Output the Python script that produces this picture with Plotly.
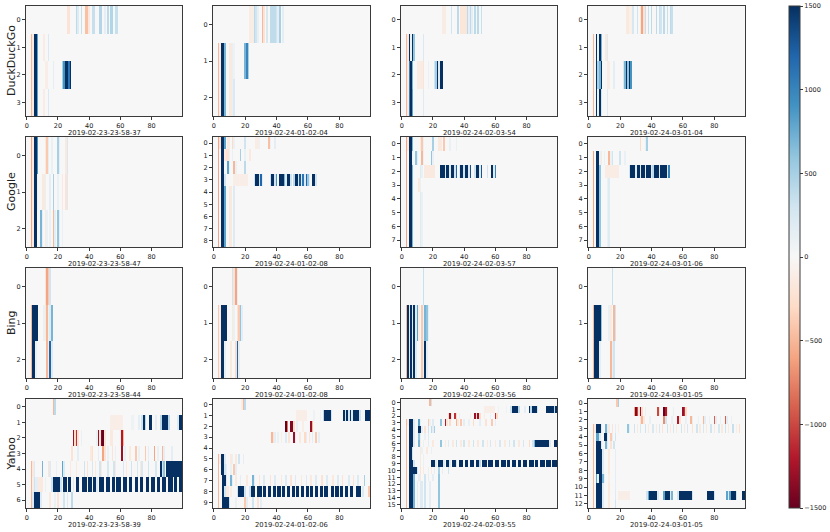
import numpy as np
import plotly.graph_objects as go

N_COLS = 100
ENGINES = ["DuckDuckGo", "Google", "Bing", "Yahoo"]
PANEL_LABELS = [
    ["2019-02-23-23-58-37", "2019-02-24-01-02-04", "2019-02-24-02-03-54", "2019-02-24-03-01-04"],
    ["2019-02-23-23-58-47", "2019-02-24-01-02-08", "2019-02-24-02-03-57", "2019-02-24-03-01-06"],
    ["2019-02-23-23-58-44", "2019-02-24-01-02-08", "2019-02-24-02-03-56", "2019-02-24-03-01-05"],
    ["2019-02-23-23-58-39", "2019-02-24-01-02-06", "2019-02-24-02-03-55", "2019-02-24-03-01-05"],
]
CBAR_TICKS = [-1500, -1000, -500, 0, 500, 1000, 1500]
CBAR_TEXT = ["\u22121500", "\u22121000", "\u2212500", "0", "500", "1000", "1500"]
X_TICKS = [0, 20, 40, 60, 80]

# each row: list of [first_col, last_col, value]
DDG_1 = [
    [[26, 27, -200], [32, 32, 400], [33, 33, 200], [35, 35, 350], [38, 39, -450], [40, 40, -150],
     [42, 43, 350], [47, 48, 450], [50, 50, 150], [52, 52, 400], [54, 55, 450], [57, 58, 350]],
    [[3, 3, -500], [4, 4, -150], [5, 6, 1500], [7, 7, 800], [11, 11, -120], [14, 14, 220]],
    [[3, 3, -500], [4, 4, -150], [5, 6, 1500], [7, 7, 800], [12, 13, -100], [17, 17, 150],
     [23, 23, 500], [24, 24, 900], [25, 26, 1500], [27, 27, 1100], [28, 28, 1500]],
    [[3, 3, -500], [4, 4, -150], [5, 6, 1500], [7, 7, 800], [11, 11, -120], [14, 14, 220]],
]
DDG_2 = [
    [[23, 25, -120], [26, 26, 400], [27, 27, 300], [28, 28, 120], [31, 31, -500], [32, 32, -200],
     [34, 34, 250], [36, 39, 380], [40, 40, 300], [41, 41, 150], [42, 42, 500], [44, 44, 150]],
    [[3, 3, -500], [4, 4, -100], [5, 6, 1500], [7, 7, 700], [10, 11, -150], [12, 12, 120],
     [13, 13, 80], [20, 20, 700], [21, 21, 1000], [22, 22, 500]],
    [[3, 3, -500], [4, 4, -100], [5, 6, 1500], [7, 7, 700], [10, 11, -150], [12, 12, 120],
     [13, 13, 220]],
]
DDG_3 = [
    [[26, 28, -120], [32, 32, 300], [36, 36, 400], [38, 41, -180], [42, 42, 400], [43, 43, 150],
     [44, 44, 400], [45, 45, 150], [47, 47, 400], [49, 49, 400], [51, 51, 350]],
    [[3, 3, -500], [4, 4, -150], [5, 5, 1500], [6, 6, 100], [7, 7, 1500], [8, 8, 600],
     [14, 14, 220]],
    [[3, 3, -500], [4, 4, -150], [5, 5, 1000], [6, 6, 1500], [7, 7, 700], [10, 13, -120],
     [14, 14, -200], [17, 17, 100], [21, 21, 300], [22, 22, 500], [23, 23, 1500], [24, 24, 200],
     [25, 26, 1500]],
    [[3, 3, -500], [4, 4, -150], [5, 5, 1000], [6, 6, 1500], [7, 7, 800], [14, 14, 200]],
]
DDG_4 = [
    [[24, 25, -150], [26, 27, -80], [28, 28, 250], [31, 31, 300], [33, 33, -150], [34, 34, -600],
     [35, 35, -200], [36, 36, 350], [38, 38, 350], [40, 40, 400], [43, 43, 400], [45, 45, 350],
     [46, 46, 300], [48, 48, 400], [50, 50, 350], [52, 52, 400], [53, 53, 350]],
    [[3, 3, -500], [5, 5, 1500], [6, 6, 80], [7, 7, 1500], [8, 8, 700], [11, 11, -150],
     [12, 12, 200]],
    [[3, 3, -500], [5, 5, 1500], [6, 6, 500], [7, 7, 700], [8, 8, 1500], [12, 13, -120],
     [16, 16, 150], [22, 22, 250], [23, 23, 700], [24, 24, 1500], [25, 25, 600], [26, 26, 1500],
     [27, 27, 900]],
    [[3, 3, -500], [5, 5, 1500], [6, 6, 80], [7, 7, 1500], [8, 8, 300], [12, 12, 200]],
]

GOOGLE_1 = [
    [[3, 3, -600], [4, 4, -150], [5, 6, 1500], [7, 7, 900], [12, 12, -150], [13, 13, -400],
     [14, 14, 150], [16, 16, 100], [20, 20, 500], [21, 21, 150], [25, 25, -150], [26, 26, 250]],
    [[3, 3, -600], [4, 4, -150], [5, 6, 1500], [7, 7, 100], [10, 11, -150], [12, 12, 100],
     [15, 15, 150], [17, 17, 500], [20, 20, 100], [23, 23, -150], [25, 25, -200], [26, 26, 200]],
    [[3, 3, -600], [4, 4, -150], [5, 6, 1500], [9, 9, 700], [10, 10, 150], [12, 12, -150],
     [13, 13, 100], [15, 15, 100], [17, 17, -500], [18, 18, 150], [20, 20, 600], [21, 21, 150],
     [23, 23, 100]],
]
GOOGLE_2 = [
    [[3, 3, -600], [4, 4, -200], [5, 6, 1500], [7, 7, 800], [9, 10, -150], [12, 12, -300],
     [13, 13, 100], [20, 20, 300], [27, 28, -120], [29, 29, 100], [35, 35, -450], [36, 36, 100],
     [39, 39, 150]],
    [[3, 3, -600], [5, 6, 1500], [7, 7, -150], [8, 9, -200], [10, 10, 100], [12, 12, 100],
     [17, 17, 500], [20, 20, 100], [23, 23, -150]],
    [[3, 3, -600], [5, 6, 1500], [9, 9, 800], [10, 10, 100], [13, 13, -500], [14, 14, 100],
     [20, 20, 400]],
    [[3, 3, -600], [5, 6, 1500], [7, 7, 300], [13, 21, -100], [26, 26, 300], [27, 28, 1500],
     [29, 29, 300], [30, 30, 1200], [31, 31, 200], [36, 36, 300], [37, 38, 1500], [39, 39, 300],
     [40, 40, 900], [42, 44, 1500], [45, 45, 700], [46, 46, 200], [47, 48, 1500], [49, 49, 300],
     [51, 51, 400], [52, 53, 1500], [54, 54, 300], [55, 55, 1300], [56, 56, 200], [57, 57, 1100],
     [58, 58, 200], [59, 59, 1200], [60, 60, 600], [61, 61, 200], [63, 64, 1500], [65, 65, 300]],
    [[3, 3, -600], [5, 6, 1500], [7, 7, 800], [10, 11, -150], [13, 13, 200]],
    [[3, 3, -600], [5, 6, 1500], [7, 7, 800], [10, 11, -150], [13, 13, 200]],
    [[3, 3, -600], [5, 6, 1500], [7, 7, 800], [10, 11, -150], [13, 13, 200]],
    [[3, 3, -600], [5, 6, 1500], [7, 7, 800], [10, 11, -150], [13, 13, 200]],
    [[3, 3, -600], [5, 6, 1500], [7, 7, 800], [10, 11, -150], [13, 13, 200]],
]
GOOGLE_3 = [
    [[3, 3, -600], [4, 4, -150], [5, 6, 1500], [7, 7, 700], [12, 12, -150], [13, 13, -400],
     [14, 14, 100], [20, 20, 500], [24, 25, -150], [27, 27, -400], [31, 31, 100], [35, 35, 100]],
    [[3, 3, -600], [5, 6, 1500], [7, 7, 100], [9, 9, 600], [10, 10, 150], [13, 13, -500],
     [14, 14, 100], [19, 19, 600], [20, 20, 100]],
    [[3, 3, -600], [5, 6, 1500], [7, 7, 700], [12, 12, 200], [13, 13, 100], [15, 21, -150],
     [25, 27, 1500], [28, 28, 200], [29, 30, 1500], [31, 31, 200], [32, 33, 1500], [34, 34, 300],
     [35, 35, 1200], [37, 37, 200], [38, 39, 1500], [40, 40, 300], [41, 42, 1500], [43, 43, 200],
     [44, 44, 1300], [47, 47, 300], [48, 49, 1500], [50, 50, 200], [51, 51, 1300], [55, 55, 300],
     [58, 58, 1500], [59, 59, 200], [60, 60, 1000]],
    [[3, 3, -600], [5, 6, 1500], [7, 7, 700], [11, 11, -150], [12, 12, 100]],
    [[3, 3, -600], [5, 6, 1500], [7, 7, 700], [12, 12, 200], [13, 13, 100]],
    [[3, 3, -600], [5, 6, 1500], [7, 7, 700], [12, 12, 200], [13, 13, 100]],
    [[3, 3, -600], [5, 6, 1500], [7, 7, 700], [12, 12, 200], [13, 13, 100]],
    [[3, 3, -600], [5, 6, 1500], [7, 7, 700], [12, 12, 200], [13, 13, 100]],
]
GOOGLE_4 = [
    [[33, 33, -300], [36, 36, 100], [37, 37, 500]],
    [[3, 3, -600], [5, 6, 1500], [7, 7, 100], [8, 8, -150], [10, 10, 100], [13, 13, -500],
     [14, 14, 100], [15, 15, 300], [20, 20, 300], [23, 23, 100]],
    [[3, 3, -600], [5, 6, 1500], [7, 7, 600], [11, 19, -120], [26, 26, 300], [27, 29, 1500],
     [30, 30, 200], [31, 32, 1500], [33, 33, 200], [34, 35, 1500], [36, 36, 200], [37, 39, 1500],
     [40, 40, 200], [41, 41, 400], [42, 44, 1500], [45, 45, 200], [46, 49, 1500], [50, 50, 200],
     [51, 51, 1000]],
    [[3, 3, -600], [5, 6, 1500], [7, 7, 600], [12, 12, 100], [13, 13, 200]],
    [[3, 3, -600], [5, 6, 1500], [7, 7, 600], [12, 12, 100], [13, 13, 200]],
    [[3, 3, -600], [5, 6, 1500], [7, 7, 600], [12, 12, 100], [13, 13, 200]],
    [[3, 3, -600], [5, 6, 1500], [7, 7, 600], [12, 12, 100], [13, 13, 200]],
    [[3, 3, -600], [5, 6, 1500], [7, 7, 600], [12, 12, 100], [13, 13, 200]],
]

BING_1 = [
    [[12, 12, -200], [13, 13, -600], [14, 14, -400], [15, 15, 300]],
    [[3, 3, -500], [4, 7, 1500], [11, 11, 100], [12, 12, -150], [13, 13, -500], [14, 14, 100],
     [15, 15, 200], [16, 16, 700]],
    [[3, 3, -500], [4, 5, 1500], [6, 6, 100], [13, 13, -500], [14, 14, -150], [15, 15, 1200],
     [16, 16, 200]],
]
BING_2 = [
    [[12, 12, 300], [13, 13, -200], [14, 14, -600], [15, 15, 150]],
    [[3, 3, -400], [4, 4, -100], [5, 8, 1500], [12, 12, -150], [13, 13, 100], [15, 15, -200],
     [16, 16, -400], [17, 17, 600], [18, 18, 150]],
    [[3, 3, -400], [4, 4, -100], [5, 6, 1500], [7, 7, 150], [11, 11, -150], [14, 14, -300],
     [15, 15, 1200], [16, 16, 150]],
]
BING_3 = [
    [[14, 14, 350]],
    [[3, 3, -500], [4, 4, 1500], [5, 5, 200], [6, 6, 1500], [7, 7, 200], [8, 8, 1500],
     [9, 9, 200], [10, 10, 800], [11, 11, -100], [13, 13, -400], [14, 14, 100], [15, 15, 700],
     [16, 16, 600], [17, 17, 150]],
    [[3, 3, -500], [4, 4, 1500], [5, 5, 200], [6, 6, 1500], [7, 7, 200], [8, 8, 1500],
     [9, 9, 200], [13, 13, -400], [14, 14, 100], [15, 15, 1500], [16, 16, 150]],
]
BING_4 = [
    [[15, 15, 350]],
    [[3, 3, -500], [4, 7, 1500], [8, 8, 600], [13, 13, 100], [14, 14, -150], [16, 16, -500],
     [17, 17, 300]],
    [[3, 3, -500], [4, 6, 1500], [7, 7, 150], [14, 14, -500], [15, 15, 150], [16, 16, 300]],
]

YAHOO_1 = [
    [[17, 17, -500], [18, 18, 400]],
    [[54, 61, -100], [67, 68, 80], [72, 72, 150], [74, 74, 300], [75, 75, 1500], [76, 76, 400],
     [79, 80, 1500], [83, 83, 150], [86, 86, 400], [87, 90, 1500], [91, 91, 400], [97, 97, 200],
     [98, 99, 1500]],
    [[30, 30, -1300], [31, 31, -300], [32, 32, -1100], [33, 33, -200], [35, 35, 100], [45, 45, 100],
     [46, 46, -1300], [47, 47, -200], [48, 48, -1400], [49, 49, -1500], [50, 50, -200],
     [54, 55, -150], [60, 60, -100], [61, 61, -1200], [62, 62, -500]],
    [[29, 29, -200], [33, 33, 150], [41, 41, -150], [42, 42, -250], [46, 46, 150], [49, 49, -600],
     [50, 50, -200], [52, 52, 100], [55, 55, -200], [57, 57, 100], [61, 61, -1300], [63, 63, 100],
     [66, 66, -150], [70, 70, -400], [72, 72, 100], [76, 76, -400], [78, 78, 150], [82, 82, -600],
     [84, 84, 100], [87, 87, -500], [88, 88, 150], [93, 93, 150]],
    [[3, 3, -500], [4, 4, -150], [5, 5, 200], [10, 10, 700], [14, 14, -200], [15, 15, 200],
     [19, 19, 100], [23, 23, 800], [24, 24, 200], [28, 28, -150], [32, 32, -150], [37, 37, 300],
     [39, 39, -200], [42, 42, 250], [44, 44, -150], [47, 47, 300], [48, 48, -150], [52, 52, 250],
     [56, 56, 300], [57, 57, -150], [62, 62, 250], [64, 64, -150], [67, 67, 300], [71, 71, 250],
     [73, 73, -150], [74, 74, 250], [78, 78, 300], [83, 83, 250], [86, 86, 1500], [87, 87, 300],
     [88, 88, 600], [90, 99, 1500]],
    [[3, 3, -500], [4, 4, -100], [5, 5, 300], [6, 7, 150], [8, 10, -150], [12, 12, 100],
     [16, 16, 300], [17, 21, 1500], [22, 22, 300], [24, 25, 1500], [27, 28, 1500], [30, 30, 200],
     [32, 33, 1500], [36, 38, 1500], [40, 41, 1500], [43, 44, 1500], [45, 45, 200], [47, 49, 1500],
     [51, 53, 1500], [55, 56, 1500], [58, 60, 1500], [62, 64, 1500], [66, 67, 1500], [70, 71, 1500],
     [73, 74, 1500], [77, 78, 1500], [80, 82, 1500], [84, 85, 1500], [87, 89, 1500], [91, 93, 1500],
     [95, 96, 1500], [98, 99, 1500]],
    [[3, 3, -500], [4, 4, 200], [5, 8, 1500], [9, 9, 200], [15, 15, -150], [18, 18, 100],
     [20, 20, -200], [24, 24, 300], [26, 26, 200], [29, 29, 400]],
]
YAHOO_2 = [
    [[18, 18, -100], [19, 19, -500], [20, 20, 400]],
    [[53, 59, -100], [64, 64, 80], [68, 68, 80], [70, 70, 400], [71, 74, 1500], [75, 75, 300],
     [83, 83, 1500], [84, 84, 300], [85, 85, 1500], [86, 86, 300], [87, 87, 1500], [88, 88, 200],
     [89, 92, 1500], [93, 93, 300], [97, 99, 1500]],
    [[46, 46, -1500], [47, 47, -800], [49, 50, -1400], [51, 51, -300], [53, 53, 100],
     [57, 57, -100], [62, 62, -1300], [63, 63, -500]],
    [[37, 37, -500], [38, 38, -200], [39, 39, 150], [41, 41, 100], [43, 43, -100], [46, 46, 200],
     [48, 48, -200], [51, 51, -1300], [52, 52, 150], [55, 55, -150], [58, 58, -300], [59, 59, 150],
     [61, 61, -200], [63, 63, 150], [65, 65, -400], [67, 67, 150]],
    [],
    [[3, 3, -500], [4, 4, -100], [5, 6, 1500], [7, 7, 200], [11, 11, -150], [12, 12, 100],
     [14, 14, -150], [16, 16, 300], [19, 19, 150]],
    [[3, 3, -500], [5, 6, 1500], [7, 7, 300], [8, 8, 150], [11, 11, 100], [13, 13, -400],
     [14, 14, 150]],
    [[3, 3, -500], [6, 7, 1500], [8, 8, 200], [11, 11, 700], [12, 12, 150], [14, 14, -150],
     [17, 17, 150], [21, 21, -150], [25, 25, 700], [26, 26, 150], [29, 29, -200], [32, 32, 200],
     [36, 36, -200], [39, 39, 200], [43, 43, -150], [46, 46, 200], [49, 49, -200], [52, 52, 200],
     [56, 56, -150], [59, 59, 200], [62, 62, -150], [65, 65, 200], [69, 69, -200], [72, 72, 200],
     [76, 76, -150], [79, 79, 200], [82, 82, -200], [86, 86, 200], [89, 89, -200], [92, 92, 200],
     [96, 96, 500]],
    [[3, 3, -500], [6, 6, 1500], [7, 7, 300], [8, 9, -150], [11, 11, -100], [15, 15, 300],
     [16, 19, 1500], [20, 20, 300], [23, 23, 300], [24, 26, 1500], [28, 30, 1500], [32, 33, 1500],
     [35, 36, 1500], [38, 39, 1500], [41, 42, 1500], [44, 45, 1500], [47, 48, 1500], [50, 51, 1500],
     [53, 54, 1500], [56, 57, 1500], [59, 60, 1500], [62, 63, 1500], [65, 66, 1500], [68, 69, 1500],
     [71, 72, 1500], [75, 76, 1500], [78, 79, 1500], [81, 82, 1500], [84, 85, 1500], [87, 88, 1500],
     [91, 93, 1500], [95, 95, 200], [99, 99, -400]],
    [[3, 3, -500], [6, 9, 1500], [10, 10, 300], [14, 14, 100], [20, 20, -400], [21, 21, 150],
     [25, 25, 300], [28, 28, -200], [30, 30, 150]],
]
YAHOO_3 = [
    [[18, 18, -500], [19, 19, 300]],
    [[53, 59, -100], [62, 62, 80], [67, 67, 80], [70, 70, 300], [71, 74, 1500], [75, 75, 400],
     [79, 79, 150], [82, 82, 1500], [83, 83, 400], [84, 86, 1500], [87, 87, 300], [93, 97, 1500],
     [98, 98, 400], [99, 99, 1500]],
    [[30, 30, -300], [31, 31, -1300], [32, 32, -200], [34, 34, -1100], [35, 35, -300], [37, 37, 100],
     [44, 44, -100], [47, 47, -1300], [48, 48, -300], [49, 49, -1300], [50, 50, -300],
     [53, 53, -100], [57, 57, 100], [60, 60, -1100], [61, 61, -300]],
    [[3, 3, -500], [4, 4, -100], [5, 7, 1500], [8, 8, 200], [11, 11, 800], [12, 12, 150],
     [17, 17, -400], [18, 18, 100], [20, 20, 200], [25, 25, 600], [28, 28, -1200], [29, 29, -200],
     [31, 31, -300], [35, 35, -500], [36, 36, -150], [38, 38, -400], [40, 40, 150], [43, 43, 100],
     [46, 46, -300], [50, 50, 150], [54, 54, -200], [58, 58, -400], [60, 60, 150]],
    [[3, 3, -500], [5, 7, 1500], [8, 8, 200], [11, 12, 1500], [13, 13, 150], [15, 15, -200],
     [17, 17, 300], [19, 19, 400], [20, 20, 150], [21, 21, 500]],
    [[3, 3, -500], [5, 7, 1500], [8, 8, 200], [11, 11, 600], [12, 12, 150], [15, 15, 100],
     [17, 17, 200]],
    [[3, 3, -500], [5, 7, 1500], [8, 8, 200], [11, 11, 700], [12, 12, -150], [14, 14, 100],
     [17, 17, 150], [20, 20, -150], [25, 25, 600], [28, 28, -150], [30, 30, 200], [33, 33, -150],
     [35, 35, 300], [38, 38, -150], [40, 40, 300], [43, 43, -150], [46, 46, 300], [49, 49, -150],
     [52, 52, 300], [55, 55, -150], [57, 57, 250], [60, 60, -150], [63, 63, 250], [66, 66, -150],
     [69, 69, 250], [72, 72, 300], [75, 75, -150], [78, 78, 250], [82, 82, -300], [84, 84, 300],
     [85, 85, 700], [86, 94, 1500], [95, 95, 200], [98, 99, 1500]],
    [[3, 3, -500], [5, 6, 1500], [7, 7, 300], [12, 12, -150], [13, 13, 100], [16, 16, -150],
     [19, 19, 100]],
    [[3, 3, -500], [5, 6, 1500], [7, 7, 300], [12, 12, -150], [14, 14, 100]],
    [[3, 3, -500], [5, 7, 1500], [8, 8, 300], [12, 12, -150], [14, 14, 100], [19, 21, 1500],
     [22, 22, 200], [24, 26, 1500], [27, 27, 200], [29, 30, 1500], [31, 31, 200], [33, 34, 1500],
     [35, 35, 300], [37, 39, 1500], [41, 42, 1500], [44, 46, 1500], [48, 49, 1500], [50, 50, 400],
     [52, 54, 1500], [56, 58, 1500], [60, 62, 1500], [64, 66, 1500], [68, 69, 1500], [71, 73, 1500],
     [75, 76, 1500], [78, 80, 1500], [82, 84, 1500], [86, 87, 1500], [89, 91, 1500], [93, 95, 1500],
     [97, 99, 1500]],
    [[3, 3, -500], [5, 9, 1500], [10, 10, 300], [12, 12, -200], [14, 14, -150], [17, 17, 100],
     [19, 19, -150], [21, 21, 150], [24, 24, 500], [26, 26, 150], [30, 30, 300]],
    [[3, 3, -500], [5, 7, 1500], [8, 8, 700], [11, 11, 150], [12, 12, -150], [15, 15, 300],
     [17, 17, 150], [20, 20, 150], [24, 24, 600]],
    [[3, 3, -500], [5, 7, 1500], [8, 8, 700], [10, 10, 150], [12, 13, 200], [15, 15, 300],
     [18, 18, 150], [24, 24, 600]],
    [[3, 3, -500], [5, 7, 1500], [8, 8, 700], [10, 10, 150], [12, 13, 200], [15, 15, 300],
     [18, 18, 150], [24, 24, 600]],
    [[3, 3, -500], [5, 7, 1500], [8, 8, 700], [10, 10, 150], [12, 13, 200], [15, 15, 300],
     [18, 18, 150], [24, 24, 600]],
    [[3, 3, -500], [5, 7, 1500], [8, 8, 700], [10, 10, 150], [12, 13, 200], [15, 15, 300],
     [18, 18, 150], [24, 24, 600]],
]
YAHOO_4 = [
    [[18, 18, -400], [19, 19, 500]],
    [[29, 29, -600], [30, 30, -1400], [31, 31, -1000], [32, 32, -200], [33, 33, -1300],
     [34, 34, -300], [36, 36, 100], [44, 44, -1000], [45, 45, -200], [48, 48, -1500],
     [49, 49, -1200], [50, 50, -200], [54, 54, 100], [60, 60, -1300], [61, 61, -1100],
     [62, 62, -300]],
    [[33, 33, -200], [34, 34, -500], [35, 35, -150], [39, 39, 100], [48, 48, -700], [49, 49, 300],
     [53, 53, 100], [57, 57, -1200], [58, 58, -200], [62, 62, 100], [65, 65, -500], [66, 66, 150],
     [70, 70, 100], [73, 73, -500], [74, 74, 150], [77, 77, 100], [80, 80, -900], [81, 81, 150],
     [84, 84, 100], [87, 87, -900], [88, 88, 150], [91, 91, 100]],
    [[3, 3, -500], [4, 4, -100], [5, 7, 1500], [8, 8, 200], [11, 11, 700], [12, 12, 150],
     [13, 13, -150], [15, 15, -200], [17, 17, 150], [19, 19, -100], [25, 25, 600], [26, 26, 150],
     [29, 29, 300], [31, 31, -150], [33, 33, 250], [36, 36, 300], [38, 38, -150], [41, 41, 250],
     [43, 43, -150], [45, 45, 250], [47, 47, -200], [50, 50, 300], [52, 52, -150], [54, 54, 250],
     [56, 56, -150], [59, 59, 300], [61, 61, -150], [63, 63, 250], [66, 66, -200], [69, 69, 300],
     [71, 71, -150], [73, 73, 250], [75, 75, -150], [78, 78, 300], [80, 80, -150], [83, 83, 250],
     [85, 85, -150], [87, 87, 300], [89, 89, -150], [92, 92, 350], [94, 94, -100], [96, 96, -250]],
    [[3, 3, -500], [5, 6, 800], [7, 7, 200], [10, 11, 1500], [12, 12, 200], [14, 14, -400],
     [15, 15, 150], [17, 17, 300]],
    [[3, 3, -500], [5, 7, 1500], [8, 8, 200], [11, 11, 700], [12, 12, 150], [14, 14, -200],
     [16, 16, 300]],
    [[3, 3, -500], [5, 8, 1500], [9, 9, 200], [13, 13, -150], [17, 17, 150]],
    [[3, 3, -500], [5, 8, 1500], [9, 9, 200], [13, 13, -150], [17, 17, 150]],
    [[3, 3, -500], [5, 8, 1500], [9, 9, 200], [13, 13, -150], [17, 17, 150]],
    [[3, 3, -500], [5, 5, 800], [6, 6, 100], [7, 8, 1500], [9, 9, 700], [10, 10, 150],
     [13, 13, -100], [17, 17, 150]],
    [[3, 3, -500], [5, 8, 1500], [9, 9, 200], [13, 13, -150], [17, 17, 150]],
    [[3, 3, -500], [5, 8, 1500], [9, 9, 200], [13, 13, -150], [17, 17, 200], [19, 26, -100],
     [37, 37, 300], [38, 38, 800], [39, 43, 1500], [44, 44, 200], [48, 48, 800], [49, 51, 1500],
     [52, 52, 200], [53, 53, 700], [57, 57, 300], [58, 65, 1500], [66, 66, 300], [76, 79, 1500],
     [80, 80, 300], [88, 88, 800], [89, 89, 200], [90, 90, 800], [91, 93, 1500], [94, 94, 300],
     [98, 99, 1500]],
    [[3, 3, -500], [5, 8, 1500], [9, 9, 200], [13, 13, -150], [17, 17, 300]],
]

PANELS = [
    [DDG_1, DDG_2, DDG_3, DDG_4],
    [GOOGLE_1, GOOGLE_2, GOOGLE_3, GOOGLE_4],
    [BING_1, BING_2, BING_3, BING_4],
    [YAHOO_1, YAHOO_2, YAHOO_3, YAHOO_4],
]

RDBU = ['rgb(103,0,31)', 'rgb(178,24,43)', 'rgb(214,96,77)', 'rgb(244,165,130)',
        'rgb(253,219,199)', 'rgb(247,247,247)', 'rgb(209,229,240)', 'rgb(146,197,222)',
        'rgb(67,147,195)', 'rgb(33,102,172)', 'rgb(5,48,97)']


def build_matrix(rows):
    z = np.zeros((len(rows), N_COLS))
    for r, segs in enumerate(rows):
        for c0, c1, v in segs:
            z[r, c0:c1 + 1] = v
    return z


W, H = 830, 532
COL_PX = [(26, 182), (213, 370), (401, 557), (588, 745)]
ROW_PX = [(6, 116), (137, 247), (268, 378), (399, 508)]
FONT = "DejaVu Sans"
LINE = "#3a3a3a"

fig = go.Figure()
layout = {}
annotations = []
k = 0
for ri in range(4):
    for ci in range(4):
        k += 1
        rows = PANELS[ri][ci]
        z = build_matrix(rows)
        n = len(rows)
        xa = "x" if k == 1 else f"x{k}"
        ya = "y" if k == 1 else f"y{k}"
        fig.add_trace(go.Heatmap(
            z=z, x=list(range(N_COLS)), y=list(range(n)),
            coloraxis="coloraxis", xaxis=xa, yaxis=ya, hoverinfo="skip"))
        x0, x1 = COL_PX[ci]
        y0, y1 = ROW_PX[ri]
        layout["xaxis" if k == 1 else f"xaxis{k}"] = dict(
            domain=[x0 / W, x1 / W], anchor=ya, range=[-0.5, N_COLS - 0.5],
            tickvals=X_TICKS, ticks="outside", ticklen=3, tickwidth=0.8, tickcolor=LINE,
            tickfont=dict(size=6.5, color="#222", family=FONT),
            showline=True, linecolor=LINE, linewidth=1, mirror=True,
            showgrid=False, zeroline=False)
        layout["yaxis" if k == 1 else f"yaxis{k}"] = dict(
            domain=[1 - y1 / H, 1 - y0 / H], anchor=xa, range=[n - 0.5, -0.5],
            tickvals=list(range(n)), ticks="outside", ticklen=3, tickwidth=0.8, tickcolor=LINE,
            tickfont=dict(size=6.5, color="#222", family=FONT),
            showline=True, linecolor=LINE, linewidth=1, mirror=True,
            showgrid=False, zeroline=False)
        annotations.append(dict(
            text=PANEL_LABELS[ri][ci], xref="paper", yref="paper",
            x=(x0 + x1) / 2 / W, y=1 - (y1 + 17) / H, xanchor="center", yanchor="middle",
            showarrow=False, font=dict(size=6.8, color="#222", family=FONT)))
    annotations.append(dict(
        text=ENGINES[ri], xref="paper", yref="paper", x=11 / W,
        y=1 - (ROW_PX[ri][0] + ROW_PX[ri][1]) / 2 / H, xanchor="center", yanchor="middle",
        textangle=-90, showarrow=False, font=dict(size=11, color="#222", family=FONT)))

fig.update_layout(
    width=W, height=H, margin=dict(l=0, r=0, t=0, b=0),
    paper_bgcolor="white", plot_bgcolor="white",
    font=dict(family=FONT, color="#222"),
    showlegend=False, annotations=annotations,
    coloraxis=dict(
        cmin=-1500, cmax=1500, colorscale=RDBU,
        colorbar=dict(
            x=789 / W, xanchor="left", y=1 - 257 / H, yanchor="middle",
            len=502, lenmode="pixels", thickness=11, thicknessmode="pixels",
            tickvals=CBAR_TICKS, ticktext=CBAR_TEXT, ticks="outside", ticklen=3,
            tickwidth=0.8, tickcolor=LINE,
            tickfont=dict(size=6.5, color="#222", family=FONT),
            outlinewidth=1, outlinecolor=LINE, xpad=0, ypad=0)),
    **layout)

fig.write_html("out.html", config={"displayModeBar": False},
               post_script="document.body.style.margin='0';document.body.style.padding='0';")
